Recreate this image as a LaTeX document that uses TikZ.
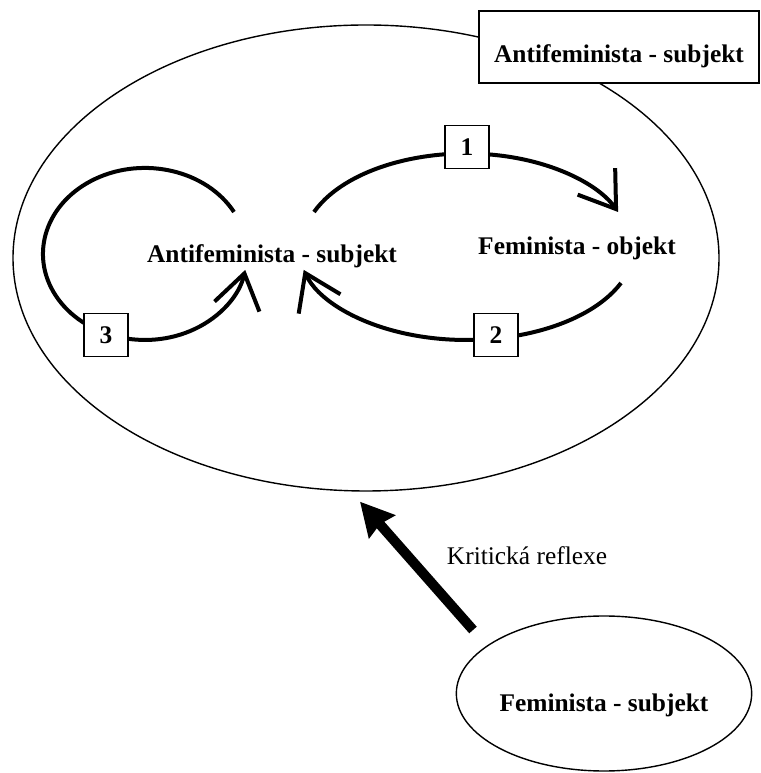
\documentclass[tikz,border=0pt]{standalone}
\usepackage{fontspec}
\setmainfont{Liberation Serif}
\usetikzlibrary{shapes.geometric,arrows.meta}

\tikzstyle{boldtext}=[font=\fontsize{25.4}{30}\selectfont\bfseries, inner sep=0pt]
\tikzstyle{plaintext}=[font=\fontsize{25.4}{30}\selectfont, inner sep=0pt]
\tikzstyle{frame}=[draw, line width=1.4pt]
\tikzstyle{numbox}=[frame, fill=white, minimum width=44pt, minimum height=43pt, inner sep=0pt, text depth=0pt, font=\fontsize{25.4}{30}\selectfont\bfseries]
\tikzstyle{cycleline}=[draw, line width=4pt, -{Straight Barb[length=34pt, width=46pt, line width=4pt]}]
\tikzstyle{bigarrow}=[draw, line width=10pt, -{Stealth[length=33pt,width=34pt,inset=3pt]}]

\begin{document}
\begin{tikzpicture}[x=1pt, y=1pt]
    \useasboundingbox (0,0) rectangle (760,773);
    % First we draw the ellipses and the heading box
    \node[ellipse, frame, minimum width=706pt, minimum height=466pt, inner sep=0pt] (outer) at (366,515) {};
    \node[boldtext, frame, fill=white, minimum width=280pt, minimum height=72pt, text height=36pt, text depth=4pt] (heading) at (619,726) {Antifeminista - subjekt};
    \node[ellipse, frame, boldtext, minimum width=288pt, minimum height=155pt, text height=40pt, text depth=3pt] (femsub) at (604,79.5) {Feminista - subjekt};

    % Texts inside the big ellipse
    \node[boldtext, anchor=base] (anti) at (272,510) {Antifeminista - subjekt};
    \node[boldtext, anchor=base] (femobj) at (577,518) {Feminista - objekt};
    \node[plaintext, anchor=base] (reflex) at (527,208) {Kritická reflexe};

    % Start points of the cycles
    \foreach \pos/\name in {{(314,561)/s1}, {(621,490)/s2}, {(234,561)/s3}, {(473,143)/s4}}
        \node[coordinate] (\name) at \pos {};

    % Cycles, then their numbers on top
    \path[cycleline] (s1) arc[start angle=158, end angle=22, x radius=164, y radius=93.5];
    \path[cycleline] (s2) arc[start angle=-23, end angle=-165.5, x radius=168, y radius=93.5];
    \path[cycleline] (s3) arc[start angle=29.2, end angle=349.3, x radius=102, y radius=86];
    \foreach \pos/\name/\num in {{(467,626)/n1/1}, {(496,438)/n2/2}, {(106,438)/n3/3}}
        \node[numbox] (\name) at \pos {\num};

    \path[bigarrow] (s4) -- ([shift={(-6,-10)}]outer.south);
\end{tikzpicture}
\end{document}
